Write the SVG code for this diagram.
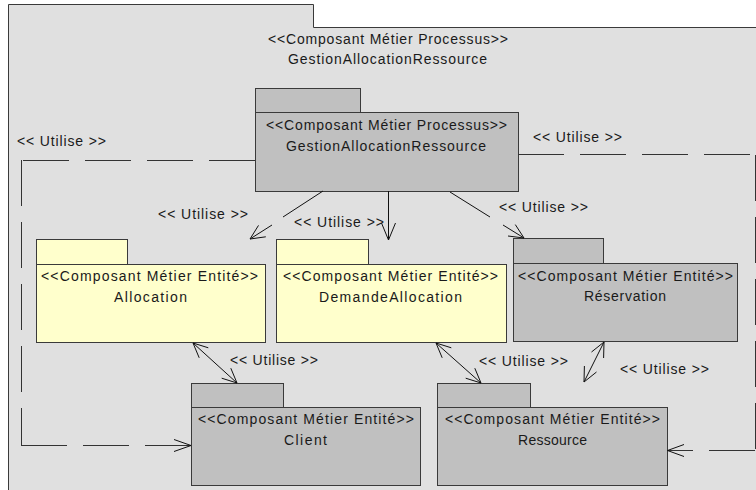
<svg xmlns="http://www.w3.org/2000/svg" width="756" height="490" viewBox="0 0 756 490">
<style>
text { font-family: "Liberation Sans", Arial, sans-serif; font-size: 14px; fill: #1a1a1a; }
.pk { stroke: #3a3a3a; stroke-width: 1; }
.gray { fill: #c0c0c0; }
.yel { fill: #ffffcc; }
.ln { fill: none; stroke: #111; stroke-width: 1; }
.dash { fill: none; stroke: #333; stroke-width: 1; stroke-dasharray: 46 16; }
</style>
<rect x="0" y="0" width="756" height="490" fill="#ffffff"/>
<g id="outer">
  <path d="M8.5,496 L8.5,4.5 L313.5,4.5 L313.5,27.5 L758,27.5 L758,496 Z" fill="#e0e0e0" class="pk"/>
  <text x="268" y="44" textLength="240" lengthAdjust="spacing">&lt;&lt;Composant Métier Processus&gt;&gt;</text>
  <text x="288" y="64" textLength="199" lengthAdjust="spacing">GestionAllocationRessource</text>
</g>
<g id="gestion">
  <rect x="255.5" y="88.5" width="105" height="24" class="pk gray"/>
  <rect x="255.5" y="112.5" width="263" height="79" class="pk gray"/>
  <text x="266" y="130" textLength="241" lengthAdjust="spacing">&lt;&lt;Composant Métier Processus&gt;&gt;</text>
  <text x="286" y="151" textLength="200" lengthAdjust="spacing">GestionAllocationRessource</text>
</g>
<g id="allocation">
  <rect x="36.5" y="239.5" width="91" height="25" class="pk yel"/>
  <rect x="36.5" y="264.5" width="229" height="78" class="pk yel"/>
  <text x="41" y="281" textLength="217" lengthAdjust="spacing">&lt;&lt;Composant Métier Entité&gt;&gt;</text>
  <text x="114" y="302" textLength="73" lengthAdjust="spacing">Allocation</text>
</g>
<g id="demandeAllocation">
  <rect x="276.5" y="239.5" width="92" height="25" class="pk yel"/>
  <rect x="276.5" y="264.5" width="230" height="78" class="pk yel"/>
  <text x="283" y="281" textLength="215" lengthAdjust="spacing">&lt;&lt;Composant Métier Entité&gt;&gt;</text>
  <text x="319" y="302" textLength="143" lengthAdjust="spacing">DemandeAllocation</text>
</g>
<g id="reservation">
  <rect x="513.5" y="238.5" width="90" height="25" class="pk gray"/>
  <rect x="513.5" y="263.5" width="224" height="78" class="pk gray"/>
  <text x="518" y="281" textLength="215" lengthAdjust="spacing">&lt;&lt;Composant Métier Entité&gt;&gt;</text>
  <text x="584" y="301" textLength="82" lengthAdjust="spacing">Réservation</text>
</g>
<g id="client">
  <rect x="191.5" y="383.5" width="92" height="24" class="pk gray"/>
  <rect x="191.5" y="407.5" width="229" height="78" class="pk gray"/>
  <text x="198" y="424" textLength="216" lengthAdjust="spacing">&lt;&lt;Composant Métier Entité&gt;&gt;</text>
  <text x="284" y="445" textLength="43" lengthAdjust="spacing">Client</text>
</g>
<g id="ressource">
  <rect x="437.5" y="383.5" width="93" height="24" class="pk gray"/>
  <rect x="437.5" y="407.5" width="230" height="78" class="pk gray"/>
  <text x="445" y="424" textLength="215" lengthAdjust="spacing">&lt;&lt;Composant Métier Entité&gt;&gt;</text>
  <text x="518" y="445" textLength="69" lengthAdjust="spacing">Ressource</text>
</g>
<g id="connectors">
  <line x1="255" y1="160.5" x2="21" y2="160.5" class="dash"/>
  <line x1="21.5" y1="160" x2="21.5" y2="445" class="dash"/>
  <line x1="21" y1="445.5" x2="191" y2="445.5" class="dash"/>
  <polyline points="174,439.5 191,445.5 174,451.5" class="ln"/>
  <line x1="518" y1="154.5" x2="756" y2="154.5" class="dash"/>
  <line x1="755.5" y1="155" x2="755.5" y2="450" class="dash"/>
  <line x1="755" y1="450.5" x2="667" y2="450.5" class="dash"/>
  <polyline points="684,444.5 667.5,450.5 684,456.5" class="ln"/>
  <line x1="323" y1="191" x2="283" y2="217" class="ln"/>
  <line x1="272" y1="225" x2="250" y2="239" class="ln"/>
  <polyline points="258.5,225.4 250,239 265.8,236.8" class="ln"/>
  <line x1="388.5" y1="191" x2="388.5" y2="240" class="ln"/>
  <polyline points="381.5,223 388.5,240 395.5,223" class="ln"/>
  <line x1="450" y1="192" x2="490" y2="217" class="ln"/>
  <line x1="503" y1="225" x2="524" y2="238" class="ln"/>
  <polyline points="515.3,224.6 524,238 508,236" class="ln"/>
  <line x1="193" y1="343" x2="237" y2="383" class="ln"/>
  <polyline points="208.3,347.8 193,343 199.2,357.8" class="ln"/>
  <polyline points="221.7,378.2 237,383 230.8,368.2" class="ln"/>
  <line x1="436" y1="343" x2="481" y2="383" class="ln"/>
  <polyline points="451.3,347.8 436,343 442.2,357.8" class="ln"/>
  <polyline points="465.7,378.2 481,383 474.8,368.2" class="ln"/>
  <line x1="604" y1="342" x2="584" y2="382" class="ln"/>
  <polyline points="603.6,358 604,342 591.5,352" class="ln"/>
  <polyline points="584.4,366 584,382 596.5,372" class="ln"/>
  <text x="17" y="146" textLength="89" lengthAdjust="spacing">&lt;&lt; Utilise &gt;&gt;</text>
  <text x="533" y="142" textLength="89" lengthAdjust="spacing">&lt;&lt; Utilise &gt;&gt;</text>
  <text x="158" y="219" textLength="90" lengthAdjust="spacing">&lt;&lt; Utilise &gt;&gt;</text>
  <text x="294" y="227" textLength="90" lengthAdjust="spacing">&lt;&lt; Utilise &gt;&gt;</text>
  <text x="499" y="212" textLength="89" lengthAdjust="spacing">&lt;&lt; Utilise &gt;&gt;</text>
  <text x="230" y="365" textLength="88" lengthAdjust="spacing">&lt;&lt; Utilise &gt;&gt;</text>
  <text x="479" y="366" textLength="89" lengthAdjust="spacing">&lt;&lt; Utilise &gt;&gt;</text>
  <text x="620" y="374" textLength="89" lengthAdjust="spacing">&lt;&lt; Utilise &gt;&gt;</text>
</g>
</svg>
